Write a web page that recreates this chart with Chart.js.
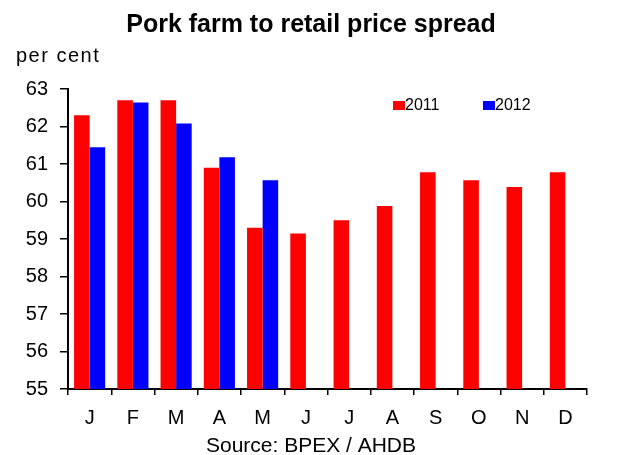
<!DOCTYPE html>
<html>
<head>
<meta charset="utf-8">
<script src="https://cdn.jsdelivr.net/npm/chart.js@4/dist/chart.umd.min.js"></script>
<style>
html,body{margin:0;padding:0;background:#fff;}
#wrap{width:622px;height:455px;}
</style>
</head>
<body>
<div id="wrap"><canvas id="c" width="622" height="455"></canvas></div>
<script>
const months = ["J","F","M","A","M","J","J","A","S","O","N","D"];
const series2011 = [62.3, 62.7, 62.7, 60.9, 59.3, 59.15, 59.5, 59.88, 60.78, 60.57, 60.39, 60.78];
const series2012 = [61.45, 62.64, 62.08, 61.18, 60.57, null, null, null, null, null, null, null];
const yTicks = [55, 56, 57, 58, 59, 60, 61, 62, 63];
const titleText = "Pork farm to retail price spread";
const yUnit = "per cent";
const sourceText = "Source: BPEX / AHDB";

const FONT = "'Liberation Sans', Arial, sans-serif";

const decor = {
  id: 'decor',
  afterDraw(chart) {
    const ctx = chart.ctx;
    ctx.save();
    ctx.fillStyle = '#000';
    ctx.textBaseline = 'alphabetic';
    ctx.textAlign = 'center';
    ctx.font = "bold 25px " + FONT;
    ctx.fillText(titleText, 311, 32);
    ctx.font = "21px " + FONT;
    ctx.fillText(sourceText, 311, 452);
    ctx.textAlign = 'left';
    ctx.font = "20px " + FONT;
    try { ctx.letterSpacing = '1.5px'; } catch (e) {}
    ctx.fillText(yUnit, 16, 62);
    try { ctx.letterSpacing = '0px'; } catch (e) {}
    // legend inside plot
    ctx.font = "16px " + FONT;
    const items = chart.data.datasets;
    const xs = [393, 483];
    items.forEach((ds, i) => {
      ctx.fillStyle = ds.backgroundColor;
      ctx.fillRect(xs[i], 101, 12, 9);
      ctx.fillStyle = '#000';
      ctx.fillText(ds.label, xs[i] + 12, 110);
    });
    ctx.restore();
  }
};

new Chart(document.getElementById('c'), {
  type: 'bar',
  data: {
    labels: months,
    datasets: [
      { label: '2011', data: series2011, backgroundColor: '#FF0000', borderWidth: 0 },
      { label: '2012', data: series2012, backgroundColor: '#0000FF', borderWidth: 0 }
    ]
  },
  options: {
    responsive: false,
    animation: false,
    devicePixelRatio: 1,
    layout: { padding: { top: 89, right: 35, left: 0, bottom: 0 } },
    plugins: {
      legend: { display: false },
      title: { display: false },
      tooltip: { enabled: false }
    },
    datasets: { bar: { categoryPercentage: 0.72, barPercentage: 1.0 } },
    scales: {
      x: {
        afterFit(scale) { scale.height = 66; },
        grid: { display: true, drawOnChartArea: false, drawTicks: true, tickLength: 6, color: '#000', lineWidth: 1.5, offset: true },
        border: { display: true, color: '#000', width: 2 },
        ticks: { color: '#000', font: { family: FONT, size: 20 }, padding: 11, maxRotation: 0, autoSkip: false }
      },
      y: {
        min: 55, max: 63,
        afterBuildTicks(scale) { scale.ticks = yTicks.map(v => ({ value: v })); },
        afterFit(scale) { scale.width = 68; },
        grid: { display: true, drawOnChartArea: false, drawTicks: true, tickLength: 8, color: '#000', lineWidth: 1.5 },
        border: { display: true, color: '#000', width: 2 },
        ticks: { color: '#000', font: { family: FONT, size: 20 }, padding: 12 }
      }
    }
  },
  plugins: [decor]
});
</script>
</body>
</html>
